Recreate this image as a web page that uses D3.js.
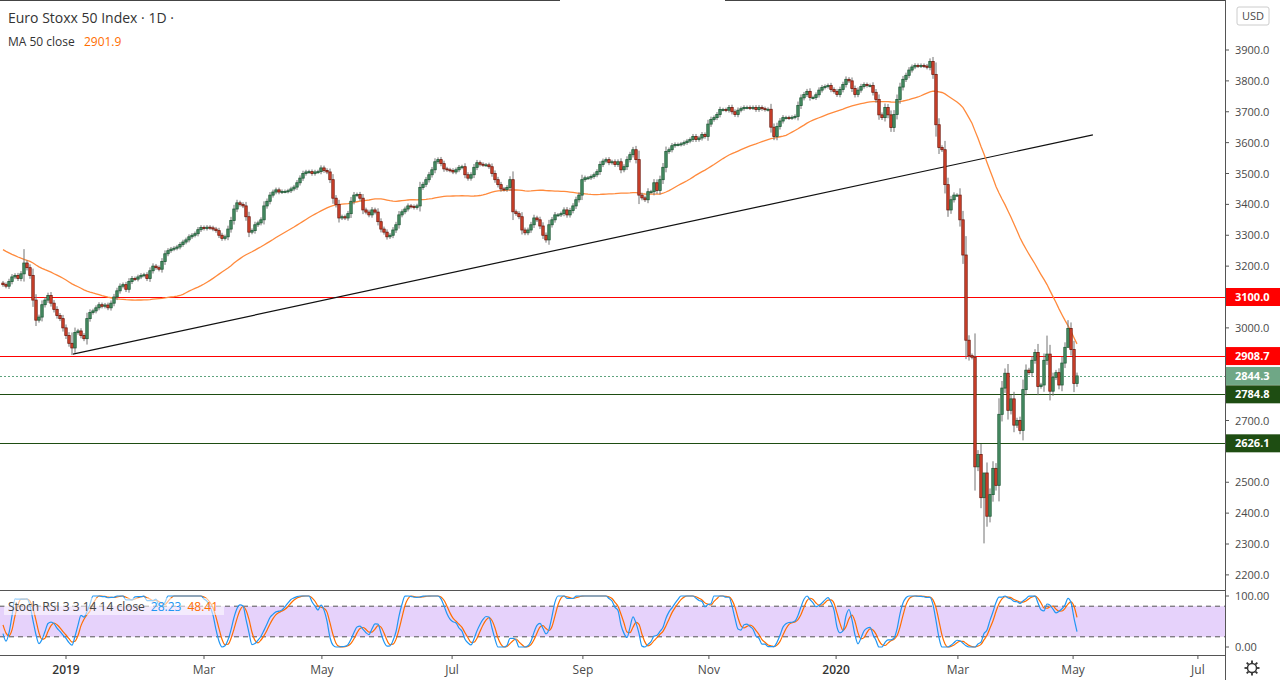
<!DOCTYPE html>
<html><head><meta charset="utf-8">
<script src="https://cdn.jsdelivr.net/npm/d3@7"></script>
<style>body{margin:0;background:#fff;font-family:"Open Sans",Roboto,sans-serif}svg{display:block}</style>
</head><body><svg id="c" width="1280" height="680"></svg>
<script>
// Closes before the visible window (used only for the 50-bar MA / indicator warm-up)
const preCloses = [3420,3410,3395,3405,3390,3380,3370,3385,3360,3350,3340,3355,3330,3320,3310,3300,3290,3305,3280,3270,3260,3250,3265,3240,3235,3220,3210,3225,3230,3215,3200,3195,3210,3220,3205,3190,3180,3195,3200,3185,3170,3180,3190,3175,3165,3160,3170,3155,3150,3145];
// Daily closes, visible window (Nov 2018 – 4 May 2020)
const closes = [
3140,3135,3150,3165,3170,3160,3175,3210,3195,3170,
3090,3025,3035,3075,3090,3105,3080,3060,3040,3030,
3000,2975,2950,2935,2985,2990,2975,2965,3030,3050,
3055,3065,3075,3070,3074,3065,3080,3100,3120,3135,
3140,3125,3150,3160,3158,3165,3170,3172,3160,3185,
3200,3195,3190,3215,3240,3250,3255,3258,3262,3270,
3278,3285,3295,3300,3305,3318,3325,3322,3326,3324,
3320,3315,3300,3290,3295,3320,3348,3385,3405,3400,
3395,3360,3310,3315,3334,3340,3350,3395,3410,3430,
3440,3447,3440,3442,3442,3444,3450,3456,3470,3485,
3500,3505,3506,3500,3505,3506,3518,3510,3505,3480,
3420,3400,3356,3360,3356,3370,3410,3430,3432,3420,
3382,3375,3366,3382,3375,3344,3320,3310,3295,3300,
3317,3334,3366,3376,3385,3395,3393,3390,3395,3455,
3465,3480,3496,3512,3538,3545,3532,3515,3512,3510,
3505,3512,3520,3522,3496,3485,3496,3520,3535,3530,
3528,3528,3522,3500,3480,3464,3450,3448,3455,3480,
3376,3370,3360,3317,3308,3317,3334,3356,3350,3330,
3300,3285,3334,3350,3366,3366,3370,3382,3366,3380,
3395,3415,3430,3480,3486,3486,3490,3496,3506,3529,
3540,3545,3535,3538,3529,3538,3512,3522,3545,3561,
3577,3545,3430,3421,3415,3441,3441,3470,3445,3480,
3520,3571,3577,3590,3594,3594,3596,3600,3605,3610,
3620,3610,3615,3626,3620,3660,3675,3681,3691,3707,
3707,3705,3714,3700,3691,3705,3710,3714,3714,3712,
3714,3707,3714,3710,3707,3708,3650,3620,3652,3670,
3681,3681,3680,3682,3685,3720,3745,3756,3766,3746,
3746,3755,3770,3779,3782,3785,3772,3766,3756,3772,
3788,3805,3800,3775,3756,3770,3782,3788,3785,3785,
3763,3740,3690,3681,3714,3690,3649,3691,3740,3780,
3805,3818,3835,3845,3850,3848,3850,3848,3844,3863,
3821,3658,3584,3577,3464,3382,3415,3430,3430,3350,
3236,2960,2910,2905,2550,2590,2450,2530,2390,2460,
2545,2490,2720,2805,2853,2733,2770,2685,2700,2668,
2800,2863,2855,2895,2920,2810,2815,2895,2915,2795,
2840,2855,2815,2886,2937,2998,2930,2820,2844.3];
// notable wick extremes [barIndex, high, low]
const extremes = [[7,3255,3150],[23,2985,2912],[327,2480,2302],[348,2975,2880],[355,3025,2960]];
const priceTicks = [2200,2300,2400,2500,2600,2700,2800,2900,3000,3100,3200,3300,3400,3500,3600,3700,3800,3900];
const levels = [{v:3100,c:"#ff0000"},{v:2908.7,c:"#ff0000"},{v:2784.8,c:"#1e4d12"},{v:2626.1,c:"#1e4d12"}];
const lastPrice = 2844.3;
const legendValues = {ma:"2901.9", k:"28.23", d:"48.41"};
const trendIdx = [23.3, 363.3], trendPrice = [2915, 3625];
const monthLabels = ["2019","Mar","May","Jul","Sep","Nov","2020","Mar","May","Jul"];
const monthIdx = [21,67,106.3,149.7,193.3,235.3,277.7,318.3,356.7,398.3];
const stochTicks = [0,100];

const svg = d3.select("#c");
const W=1225, mainB=590, sTop=590, sBot=655;
const x = d3.scaleLinear().domain([0,358]).range([3,1077]);
const y = d3.scaleLinear().domain([3100,3900]).range([297,50]);
const ys = d3.scaleLinear().domain([0,100]).range([647,596]);

const all = preCloses.concat(closes), off = preCloses.length;
const ma = closes.map((c,i)=>d3.mean(all.slice(i+off-49,i+off+1)));
const rsi=[]; let ag=0,al=0;
for(let i=1;i<all.length;i++){const d=all[i]-all[i-1],g=Math.max(d,0),l=Math.max(-d,0);
 if(i<=14){ag+=g/14;al+=l/14;} else {ag=(ag*13+g)/14;al=(al*13+l)/14;}
 rsi[i]= i>=14 ? (al===0?100:100-100/(1+ag/al)) : null;}
const st=[]; for(let i=0;i<all.length;i++){const w=rsi.slice(Math.max(1,i-13),i+1).filter(v=>v!=null);
 if(i<27||!w.length){st[i]=null;continue;} const mn=d3.min(w),mx=d3.max(w); st[i]=mx===mn?50:(rsi[i]-mn)/(mx-mn)*100;}
const sma=(a,n)=>a.map((v,i)=>{const w=a.slice(Math.max(0,i-n+1),i+1);return w.some(q=>q==null)||w.length<n?null:d3.mean(w);});
const K=sma(st,3), D=sma(K,3);
const kv=closes.map((c,i)=>K[i+off]), dv=closes.map((c,i)=>D[i+off]);

svg.append("clipPath").attr("id","mc").append("rect").attr("x",0).attr("y",0).attr("width",W).attr("height",mainB);
svg.append("clipPath").attr("id","sc").append("rect").attr("x",0).attr("y",sTop).attr("width",W).attr("height",sBot-sTop);
const g = svg.append("g").attr("clip-path","url(#mc)");

svg.append("line").attr("x1",0).attr("x2",560).attr("y1",0.5).attr("y2",0.5).attr("stroke","#444");
svg.append("line").attr("x1",725).attr("x2",W).attr("y1",0.5).attr("y2",0.5).attr("stroke","#444");

levels.forEach(l=>g.append("line").attr("x1",0).attr("x2",W).attr("y1",Math.round(y(l.v))+0.5).attr("y2",Math.round(y(l.v))+0.5).attr("stroke",l.c).attr("stroke-width",1));
g.append("line").attr("x1",0).attr("x2",W).attr("y1",Math.round(y(lastPrice))+0.5).attr("y2",Math.round(y(lastPrice))+0.5).attr("stroke","#5fa37e").attr("stroke-dasharray","2,2");
g.append("line").attr("x1",x(trendIdx[0])).attr("x2",x(trendIdx[1])).attr("y1",y(trendPrice[0])).attr("y2",y(trendPrice[1])).attr("stroke","#111").attr("stroke-width",1.2);
g.append("path").datum(ma).attr("d",d3.line().x((d,i)=>x(i)).y(d=>y(d))).attr("fill","none").attr("stroke","#ff8a3c").attr("stroke-width",1.3);

const bars = closes.map((c,i)=>{const o=i===0?preCloses[off-1]:closes[i-1];const body=Math.abs(c-o);
 let h=Math.max(o,c)+6+body*0.2, l=Math.min(o,c)-6-body*0.2;
 const e=extremes.find(q=>q[0]===i); if(e){h=e[1];l=e[2];}
 return {i,o,c,h,l};});
const cg=g.append("g");
cg.selectAll("line").data(bars).join("line").attr("x1",d=>x(d.i)).attr("x2",d=>x(d.i)).attr("y1",d=>y(d.h)).attr("y2",d=>y(d.l)).attr("stroke","#737373");
cg.selectAll("rect").data(bars).join("rect").attr("x",d=>x(d.i)-1.2).attr("width",2.4)
 .attr("y",d=>y(Math.max(d.o,d.c))).attr("height",d=>Math.max(1,Math.abs(y(d.o)-y(d.c))))
 .attr("fill",d=>d.c>=d.o?"#4a9068":"#d9452d").attr("stroke",d=>d.c>=d.o?"#1f5a36":"#6e1a0f").attr("stroke-width",0.8);

svg.append("line").attr("x1",0).attr("x2",W).attr("y1",sTop+0.5).attr("y2",sTop+0.5).attr("stroke","#555");
svg.append("line").attr("x1",0).attr("x2",W).attr("y1",sBot+0.5).attr("y2",sBot+0.5).attr("stroke","#555");
svg.append("line").attr("x1",W+0.5).attr("x2",W+0.5).attr("y1",0).attr("y2",680).attr("stroke","#555");

const ax = svg.append("g").attr("font-size",11).attr("fill","#4a4a4a");
const tagVals=[3100,2908.7,lastPrice,2784.8,2626.1];
priceTicks.forEach(p=>{ax.append("line").attr("x1",W).attr("x2",W+4).attr("y1",y(p)).attr("y2",y(p)).attr("stroke","#555");
 if(tagVals.some(t=>Math.abs(y(t)-y(p))<14)) return;
 ax.append("text").attr("x",1235).attr("y",y(p)+4).text(p.toFixed(1));});
const tag=(v,bg)=>{const yy=y(v);ax.append("rect").attr("x",W+1).attr("y",yy-9).attr("width",54).attr("height",18).attr("fill",bg);
 ax.append("text").attr("x",1235).attr("y",yy+4).attr("fill","#fff").attr("font-weight","bold").text(v.toFixed(1));};
tag(3100,"#ff0000");tag(2908.7,"#ff0000");tag(lastPrice,"#6fa786");tag(2784.8,"#1e4d12");tag(2626.1,"#1e4d12");
ax.append("rect").attr("x",1237).attr("y",7).attr("width",32).attr("height",18).attr("fill","#fff").attr("stroke","#ccc").attr("rx",2);
ax.append("text").attr("x",1253).attr("y",20).attr("text-anchor","middle").text("USD");

const sg=svg.append("g").attr("clip-path","url(#sc)");
sg.append("rect").attr("x",0).attr("width",W).attr("y",ys(80)).attr("height",ys(20)-ys(80)).attr("fill","#e6d2fb");
[20,80].forEach(v=>sg.append("line").attr("x1",0).attr("x2",W).attr("y1",ys(v)).attr("y2",ys(v)).attr("stroke","#555").attr("stroke-dasharray","5,4"));
const sl=d3.line().defined(d=>d!=null).x((d,i)=>x(i)).y(d=>ys(d)).curve(d3.curveMonotoneX);
sg.append("path").datum(dv).attr("d",sl).attr("fill","none").attr("stroke","#ff6d00").attr("stroke-width",1.2);
sg.append("path").datum(kv).attr("d",sl).attr("fill","none").attr("stroke","#2196f3").attr("stroke-width",1.2);
stochTicks.forEach(v=>{ax.append("line").attr("x1",W).attr("x2",W+4).attr("y1",ys(v)).attr("y2",ys(v)).attr("stroke","#555");
 ax.append("text").attr("x",1235).attr("y",ys(v)+4).text(v.toFixed(2));});

monthLabels.forEach((m,k)=>{svg.append("line").attr("x1",x(monthIdx[k])).attr("x2",x(monthIdx[k])).attr("y1",sBot).attr("y2",sBot+4).attr("stroke","#555");
 svg.append("text").attr("x",x(monthIdx[k])).attr("y",674).attr("text-anchor","middle").attr("font-size",12)
 .attr("fill",/^\d/.test(m)?"#333":"#4a4a4a").attr("font-weight",/^\d/.test(m)?"600":"normal").text(m);});
const gx=1252,gy=668;
svg.append("circle").attr("cx",gx).attr("cy",gy).attr("r",4.5).attr("fill","none").attr("stroke","#333").attr("stroke-width",1.5);
for(let a=0;a<8;a++){const t=a*Math.PI/4;svg.append("line").attr("x1",gx+5*Math.cos(t)).attr("y1",gy+5*Math.sin(t)).attr("x2",gx+7.5*Math.cos(t)).attr("y2",gy+7.5*Math.sin(t)).attr("stroke","#333").attr("stroke-width",1.8);}

svg.append("text").attr("x",8).attr("y",23).attr("font-size",14).attr("fill","#333").text("Euro Stoxx 50 Index · 1D ·");
const t2=svg.append("text").attr("x",8).attr("y",46).attr("font-size",12).attr("fill","#333");
t2.append("tspan").text("MA 50 close ");t2.append("tspan").attr("dx",6).attr("fill","#ff6d00").text(legendValues.ma);
svg.append("rect").attr("x",4).attr("y",598).attr("width",220).attr("height",17).attr("fill","#fff").attr("opacity",0.55);
const t3=svg.append("text").attr("x",8).attr("y",611).attr("font-size",12).attr("fill","#444");
t3.append("tspan").text("Stoch RSI 3 3 14 14 close");
t3.append("tspan").attr("dx",6).attr("fill","#2196f3").text(legendValues.k);
t3.append("tspan").attr("dx",6).attr("fill","#ff6d00").text(legendValues.d);
</script></body></html>
